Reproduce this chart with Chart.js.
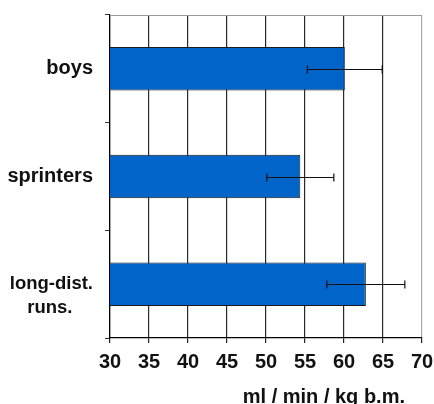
<!DOCTYPE html>
<html>
<head>
<meta charset="utf-8">
<script src="https://cdn.jsdelivr.net/npm/chart.js@4"></script>
<style>
  html, body { margin: 0; padding: 0; background: #fff; }
  #wrap { width: 434px; height: 404px; }
</style>
</head>
<body>
<div id="wrap"><canvas id="vo2Chart" width="434" height="404"></canvas></div>
<script>
// =========================
// DATA
// =========================
const groups = ["boys", "sprinters", ["", "long-dist.", "runs.    "]];
const meanVO2 = [60.1, 54.4, 62.8];
const sdVO2 = [4.8, 4.3, 5.0];
const xMin = 30, xMax = 70, xStep = 5;
const xTitle = "ml / min / kg b.m.";

const FONT = "'Liberation Sans', Arial, sans-serif";
Chart.defaults.font.family = FONT;

// =========================
// ERROR BARS + FRAME + TITLE
// =========================
const extras = {
    id: "extras",
    beforeDatasetsDraw(chart) {
        const { ctx, chartArea } = chart;
        ctx.save();
        ctx.strokeStyle = "#9a9a9a";
        ctx.lineWidth = 1;
        ctx.beginPath();
        ctx.moveTo(chartArea.left, chartArea.top + 0.5);
        ctx.lineTo(chartArea.right, chartArea.top + 0.5);
        ctx.stroke();
        ctx.restore();
    },
    afterDatasetsDraw(chart) {
        const { ctx } = chart;
        const xs = chart.scales.x;
        const meta = chart.getDatasetMeta(0);
        ctx.save();
        ctx.strokeStyle = "#111";
        ctx.lineWidth = 1.2;
        meta.data.forEach((bar, i) => {
            const lo = xs.getPixelForValue(meanVO2[i] - sdVO2[i]);
            const hi = xs.getPixelForValue(meanVO2[i] + sdVO2[i]);
            const y = Math.round(bar.y) + 0.5;
            ctx.beginPath();
            ctx.moveTo(lo, y);
            ctx.lineTo(hi, y);
            ctx.moveTo(lo, y - 4);
            ctx.lineTo(lo, y + 4);
            ctx.moveTo(hi, y - 4);
            ctx.lineTo(hi, y + 4);
            ctx.stroke();
        });
        ctx.restore();
    },
    afterDraw(chart) {
        const { ctx, chartArea } = chart;
        ctx.save();
        ctx.font = "bold 20px " + FONT;
        ctx.fillStyle = "#111";
        ctx.textAlign = "right";
        ctx.textBaseline = "middle";
        ctx.fillText(xTitle, chartArea.right - 17, chart.height - 7);
        ctx.restore();
    }
};

// =========================
// CHART
// =========================
const ctx = document.getElementById("vo2Chart").getContext("2d");

new Chart(ctx, {
    type: "bar",
    data: {
        labels: groups,
        datasets: [{
            data: meanVO2,
            backgroundColor: "#0064c8",
            borderColor: "#1a1a1a",
            borderWidth: 1,
            borderSkipped: false,
            barPercentage: 0.404,
            categoryPercentage: 1
        }]
    },
    options: {
        indexAxis: "y",
        responsive: false,
        animation: false,
        layout: { padding: { top: 15, right: 12, left: 0, bottom: 0 } },
        plugins: {
            legend: { display: false },
            tooltip: { enabled: false }
        },
        scales: {
            x: {
                min: xMin,
                max: xMax,
                afterFit: (s) => {
                    s.height = 66;
                    s.paddingLeft = 0;
                    s.paddingRight = 0;
                },
                border: { color: "#000", width: 1.2 },
                grid: {
                    color: (c) => (c.tick && c.tick.value === xMax ? "#a8a8a8" : "#2a2a2a"),
                    lineWidth: 1.2,
                    tickColor: "#222",
                    tickLength: 5
                },
                ticks: {
                    stepSize: xStep,
                    color: "#111",
                    padding: 7,
                    maxRotation: 0,
                    font: { size: 20, weight: "bold" }
                }
            },
            y: {
                afterFit: (s) => {
                    s.width = 110;
                    s.paddingTop = 0;
                    s.paddingBottom = 0;
                },
                border: { color: "#000", width: 1.2 },
                grid: {
                    drawOnChartArea: false,
                    tickColor: "#333",
                    tickLength: 5
                },
                ticks: {
                    color: "#111",
                    padding: 12,
                    font: (c) => (c.index === 2
                        ? { size: 18.5, weight: "bold", lineHeight: "24px" }
                        : { size: 20, weight: "bold", lineHeight: 1.1 })
                }
            }
        }
    },
    plugins: [extras]
});
</script>
</body>
</html>
